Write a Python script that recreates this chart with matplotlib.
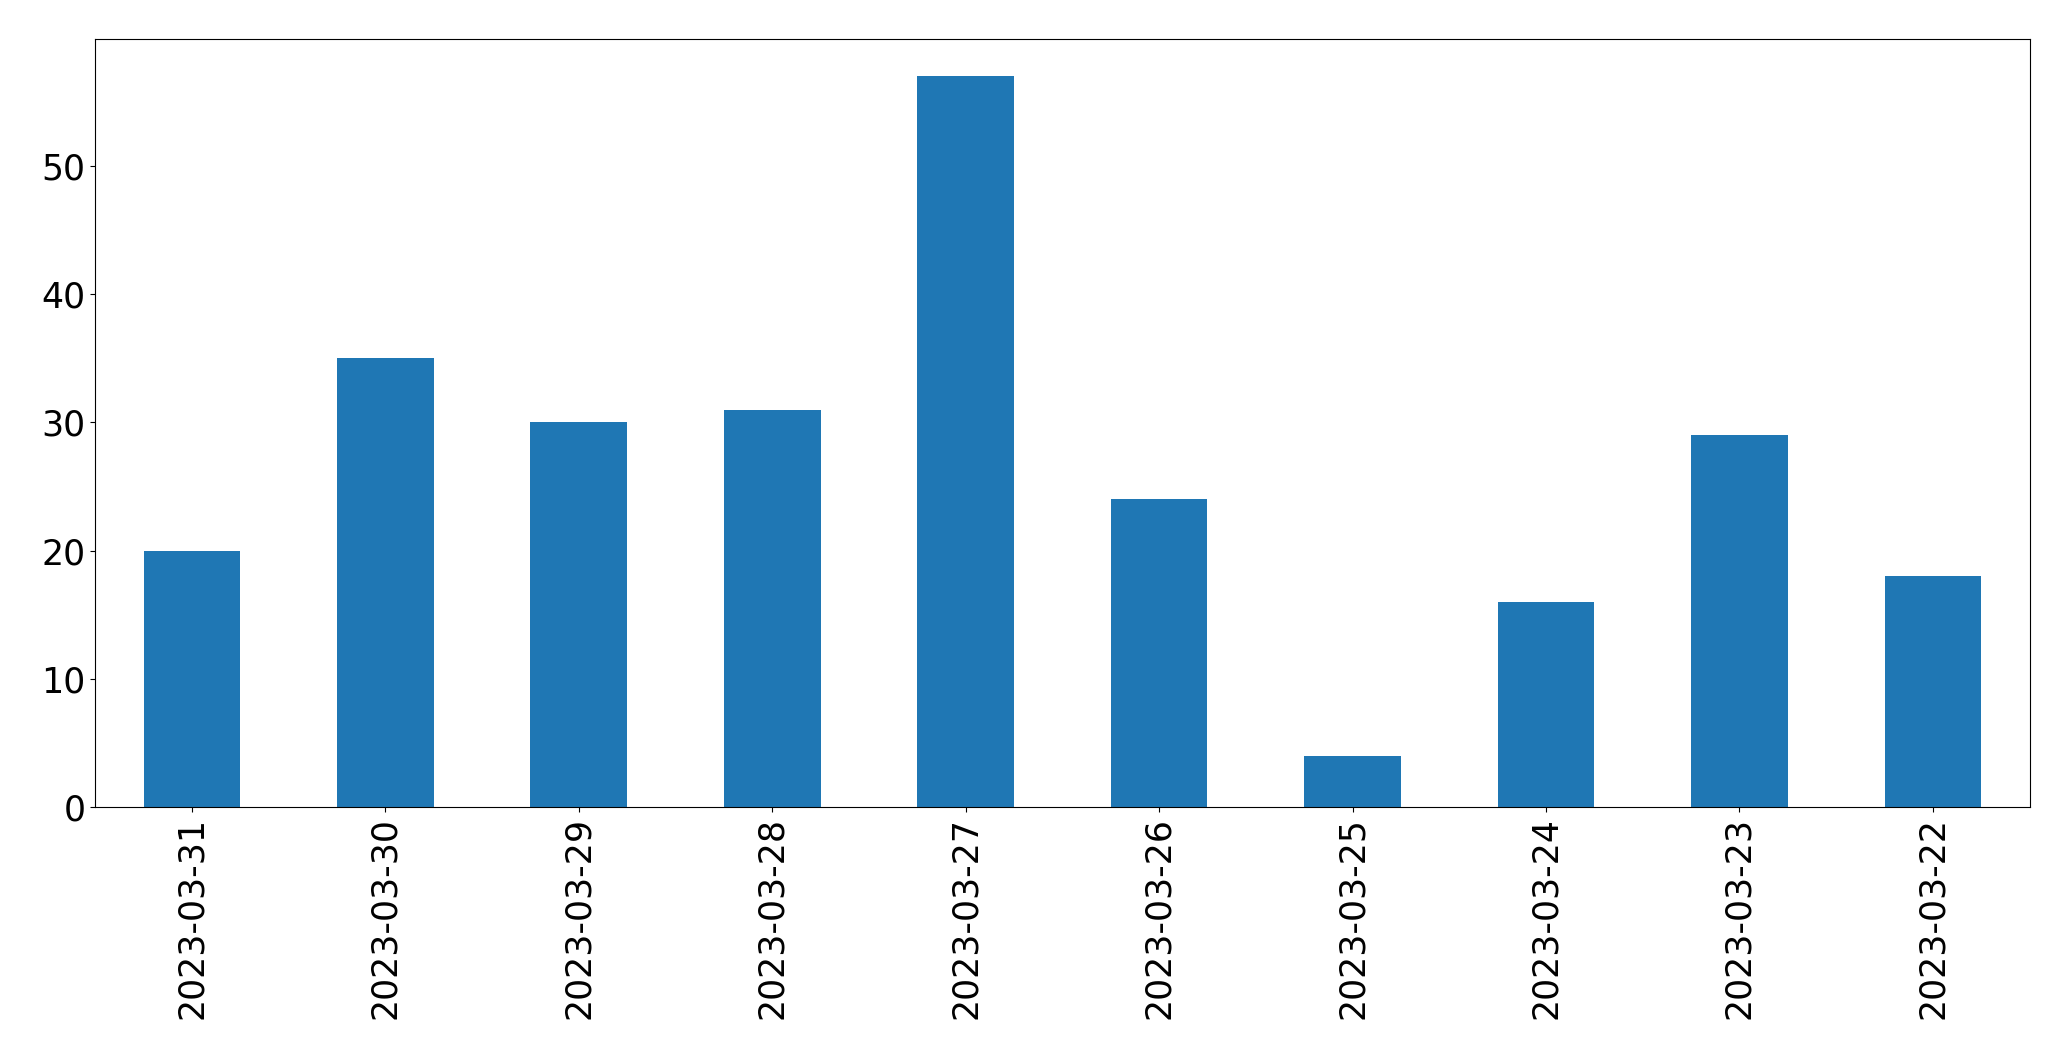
import matplotlib
matplotlib.use("Agg")
import matplotlib.pyplot as plt

dates = ["2023-03-31", "2023-03-30", "2023-03-29", "2023-03-28", "2023-03-27",
         "2023-03-26", "2023-03-25", "2023-03-24", "2023-03-23", "2023-03-22"]
counts = [20, 35, 30, 31, 57, 24, 4, 16, 29, 18]

fig = plt.figure(figsize=(20.71, 10.61), dpi=100)
ax = fig.add_axes([0.046, 0.239, 0.934, 0.724])
x = range(len(dates))
ax.bar(x, counts, width=0.5, color="#1f77b4")
ax.set_xticks(list(x))
ax.set_xticklabels(dates, rotation=90, fontsize=25)
ax.tick_params(axis="y", labelsize=25)
ax.set_xlim(-0.5, len(dates) - 0.5)
fig.savefig("out.png", dpi=100)
